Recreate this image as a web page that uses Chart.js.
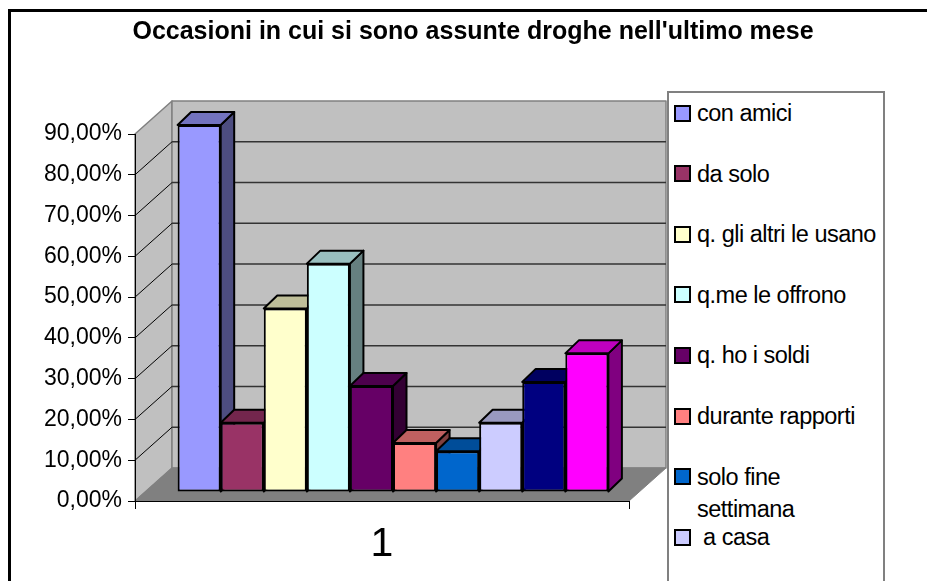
<!DOCTYPE html>
<html>
<head>
<meta charset="utf-8">
<script src="https://cdn.jsdelivr.net/npm/chart.js@4.4.1/dist/chart.umd.min.js"></script>
<style>
  html, body { margin: 0; padding: 0; background: #fff; }
  #wrap { position: relative; width: 927px; height: 581px; overflow: hidden; }
  #chart { position: absolute; left: 0; top: 0; }
  #frame { position: absolute; left: 8px; top: 9px; width: 2000px; height: 2000px;
           border-left: 3px solid #000; border-top: 3px solid #000; }
  #legend { position: absolute; left: 667px; top: 91px; width: 214px; height: 600px;
            border: 2px solid #808080; background: #fff; }
  .item { position: absolute; left: 5px; display: flex; align-items: flex-start;
          font: 23.5px 'Liberation Sans', Arial, sans-serif; line-height: 32px; color: #000;
          letter-spacing: -0.5px; }
  .sw { width: 13px; height: 13px; border: 2px solid #000; margin-top: 7.5px; margin-right: 6px; flex: none; }
  .txt { width: 183px; white-space: pre-wrap; }
</style>
</head>
<body>
<div id="wrap">
  <canvas id="chart" width="927" height="581"></canvas>
  <div id="frame"></div>
  <div id="legend"></div>
</div>
<script>
// data
const categories = ['1'];
const seriesLabels = ['con amici', 'da solo', 'q. gli altri le usano', 'q.me le offrono', 'q. ho i soldi',
    'durante rapporti', 'solo fine settimana', ' a casa', '', ''];
const seriesValues = [0.90, 0.17, 0.45, 0.56, 0.26, 0.12, 0.10, 0.17, 0.27, 0.34];
const seriesColors = ['#9999FF', '#993366', '#FFFFCC', '#CCFFFF', '#660066',
    '#FF8080', '#0066CC', '#CCCCFF', '#000080', '#FF00FF'];
const yTickValues = [0, 0.1, 0.2, 0.3, 0.4, 0.5, 0.6, 0.7, 0.8, 0.9];

// 3D look (Excel style)
const WALL_DX = 37, WALL_DY = -33;
const BAR_SHIFT_X = 11, BAR_SHIFT_Y = -9;
const BAR_DX = 13.5, BAR_DY = -13;

function shade(hex, f) {
    const n = parseInt(hex.slice(1), 16);
    const r = Math.round(((n >> 16) & 255) * f), g = Math.round(((n >> 8) & 255) * f), b = Math.round((n & 255) * f);
    return `rgb(${r},${g},${b})`;
}

function poly(ctx, pts, fill, stroke, lw) {
    ctx.beginPath();
    pts.forEach((p, i) => i ? ctx.lineTo(p[0], p[1]) : ctx.moveTo(p[0], p[1]));
    ctx.closePath();
    if (fill) { ctx.fillStyle = fill; ctx.fill(); }
    if (stroke) { ctx.strokeStyle = stroke; ctx.lineWidth = lw || 1; ctx.stroke(); }
}

const excel3d = {
    id: 'excel3d',
    beforeDraw(chart) {
        const { ctx } = chart;
        const xs = chart.scales.x, ys = chart.scales.y;
        const L = xs.left, R = xs.right;
        const B = ys.getPixelForValue(0), T = ys.getPixelForValue(yTickValues[yTickValues.length - 1]);
        ctx.save();
        ctx.lineJoin = 'round';
        poly(ctx, [[L, T], [L + WALL_DX, T + WALL_DY], [L + WALL_DX, B + WALL_DY], [L, B]], '#c0c0c0', '#808080', 1.5);
        poly(ctx, [[L + WALL_DX, T + WALL_DY], [R + WALL_DX, T + WALL_DY], [R + WALL_DX, B + WALL_DY], [L + WALL_DX, B + WALL_DY]], '#c0c0c0', '#808080', 1.5);
        poly(ctx, [[L, B], [L + WALL_DX, B + WALL_DY], [R + WALL_DX, B + WALL_DY], [R, B]], '#808080', '#808080', 1);
        yTickValues.slice(1, -1).forEach(v => {
            const py = ys.getPixelForValue(v);
            ctx.beginPath();
            ctx.moveTo(L + WALL_DX, py + WALL_DY);
            ctx.lineTo(R + WALL_DX, py + WALL_DY);
            ctx.strokeStyle = '#333';
            ctx.lineWidth = 1.5;
            ctx.stroke();
            ctx.beginPath();
            ctx.moveTo(L, py);
            ctx.lineTo(L + WALL_DX, py + WALL_DY);
            ctx.strokeStyle = '#000';
            ctx.lineWidth = 1;
            ctx.stroke();
        });
        ctx.restore();
    },
    beforeDatasetsDraw(chart) {
        const { ctx } = chart;
        ctx.save();
        ctx.translate(BAR_SHIFT_X, BAR_SHIFT_Y);
        ctx.save();
        ctx.lineJoin = 'round';
        chart.data.datasets.forEach((ds, i) => {
            chart.getDatasetMeta(i).data.forEach(el => {
                const { x, y, base, width } = el.getProps(['x', 'y', 'base', 'width'], true);
                const l = x - width / 2, r = x + width / 2;
                poly(ctx, [[r, y], [r + BAR_DX, y + BAR_DY], [r + BAR_DX, base + BAR_DY], [r, base]], shade(ds.backgroundColor, 0.5), '#000', 2);
                poly(ctx, [[l, y], [l + BAR_DX, y + BAR_DY], [r + BAR_DX, y + BAR_DY], [r, y]], shade(ds.backgroundColor, 0.75), '#000', 2);
            });
        });
        ctx.restore();
    },
    afterDatasetsDraw(chart) {
        chart.ctx.restore();
    },
};

Chart.defaults.font.family = "'Liberation Sans', Arial, sans-serif";
Chart.defaults.color = '#000';

new Chart(document.getElementById('chart'), {
    type: 'bar',
    data: {
        labels: categories,
        datasets: seriesValues.map((v, i) => ({
            label: seriesLabels[i],
            data: [v],
            backgroundColor: seriesColors[i],
            borderColor: '#000',
            borderWidth: 2,
            borderSkipped: false,
            clip: false,
            categoryPercentage: 0.872,
            barPercentage: 1,
        })),
    },
    options: {
        responsive: false,
        animation: false,
        layout: { padding: { left: 19, right: 0, top: 0, bottom: 0 } },
        plugins: {
            legend: { display: false },
            tooltip: { enabled: false },
            title: {
                display: true,
                text: "Occasioni in cui si sono assunte droghe nell'ultimo mese",
                color: '#000',
                font: { size: 25, weight: 'bold', lineHeight: 1.2 },
                padding: { top: 17, bottom: 87 },
            },
        },
        scales: {
            x: {
                grid: { display: true, drawOnChartArea: false, offset: true, tickLength: 8, color: '#000' },
                border: { color: '#000', width: 1 },
                ticks: { font: { size: 41 }, padding: 11 },
                afterFit: s => { s.height = 80; },
            },
            y: {
                min: 0,
                max: 0.9,
                afterBuildTicks: s => { s.ticks = yTickValues.map(v => ({ value: v })); },
                grid: { display: true, drawOnChartArea: false, tickLength: 7, color: '#000' },
                border: { color: '#000', width: 1 },
                ticks: {
                    font: { size: 23 },
                    padding: 6,
                    callback: v => (v * 100).toFixed(2).replace('.', ',') + '%',
                },
                afterFit: s => { s.width = 116; },
            },
            y2: {
                position: 'right',
                display: true,
                grid: { display: false },
                border: { display: false },
                ticks: { display: false },
                afterFit: s => { s.width = 298; },
            },
        },
    },
    plugins: [excel3d],
});

// legend box on the right, built from the same arrays
const legend = document.getElementById('legend');
seriesLabels.forEach((name, i) => {
    const item = document.createElement('div');
    item.className = 'item';
    item.style.top = (4 + i * 60.6) + 'px';
    const sw = document.createElement('span');
    sw.className = 'sw';
    sw.style.background = seriesColors[i];
    const txt = document.createElement('span');
    txt.className = 'txt';
    txt.textContent = name;
    item.appendChild(sw);
    item.appendChild(txt);
    legend.appendChild(item);
});
</script>
</body>
</html>
